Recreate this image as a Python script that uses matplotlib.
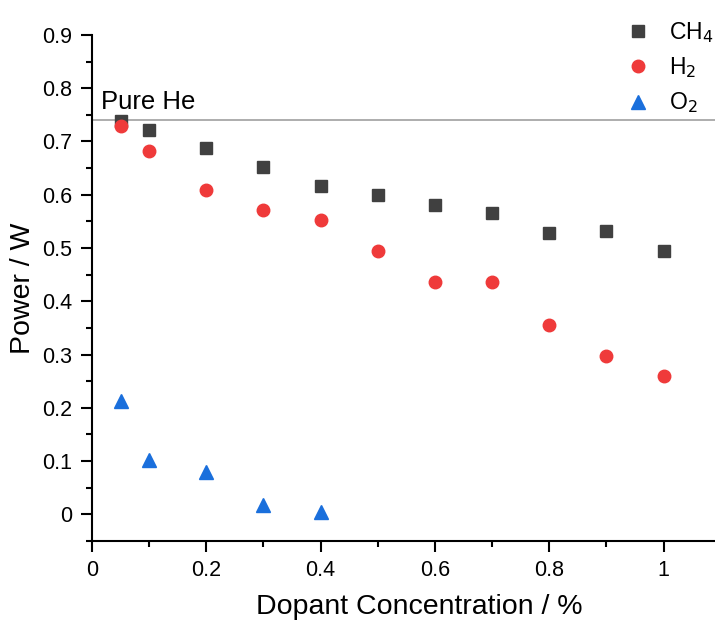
import matplotlib
matplotlib.use("Agg")
from matplotlib import pyplot as plt
from matplotlib.ticker import MultipleLocator

plt.rcParams['font.family'] = ['Liberation Sans', 'DejaVu Sans']

conc = [0.05, 0.1, 0.2, 0.3, 0.4, 0.5, 0.6, 0.7, 0.8, 0.9, 1.0]
ch4 = [0.739, 0.722, 0.688, 0.653, 0.616, 0.599, 0.580, 0.566, 0.529, 0.532, 0.494]
h2 = [0.729, 0.682, 0.608, 0.571, 0.553, 0.495, 0.436, 0.436, 0.356, 0.298, 0.259]
conc_o2 = [0.05, 0.1, 0.2, 0.3, 0.4]
o2 = [0.213, 0.102, 0.080, 0.0175, 0.005]
pure_he = 0.74

fig = plt.figure(figsize=(7.15, 6.23), dpi=100)
ax = fig.add_axes([0.1287, 0.1316, 0.8713, 0.8123])

ax.axhline(pure_he, color='#a0a0a0', lw=1.2, zorder=1)
ax.text(0.015, pure_he + 0.012, 'Pure He', fontsize=18.5, va='bottom', ha='left')

ax.plot(conc, ch4, 's', color='#404040', ms=8, label='CH$_4$', zorder=3)
ax.plot(conc, h2, 'o', color='#ef3a3a', ms=9, label='H$_2$', zorder=3)
ax.plot(conc_o2, o2, '^', color='#1a6fdc', ms=10, label='O$_2$', zorder=3)

ax.set_xlim(0, 1.09)
ax.set_ylim(-0.05, 0.9)
ax.xaxis.set_major_locator(MultipleLocator(0.2))
ax.xaxis.set_minor_locator(MultipleLocator(0.1))
ax.yaxis.set_major_locator(MultipleLocator(0.1))
ax.yaxis.set_minor_locator(MultipleLocator(0.05))
ax.xaxis.set_major_formatter(plt.FuncFormatter(lambda v, p: '%g' % round(v, 2)))
ax.yaxis.set_major_formatter(plt.FuncFormatter(lambda v, p: '%g' % round(v, 2)))

for s in ['top', 'right']:
    ax.spines[s].set_visible(False)
for s in ['left', 'bottom']:
    ax.spines[s].set_linewidth(1.5)
ax.tick_params(which='major', direction='out', length=8, width=1.5, labelsize=15.5, pad=6)
ax.tick_params(which='minor', direction='out', length=4, width=1.5)

ax.set_xlabel('Dopant Concentration / %', fontsize=20.5)
ax.set_ylabel('Power / W', fontsize=20.5)
ax.xaxis.set_label_coords(0.526, -0.105)
ax.yaxis.set_label_coords(-0.09, 0.5)

ax.legend(loc='upper right', bbox_to_anchor=(1.03, 1.07), frameon=False,
          fontsize=16.5, handletextpad=0.6, labelspacing=0.45, handlelength=1.5)

fig.savefig('out.png', dpi=100)
